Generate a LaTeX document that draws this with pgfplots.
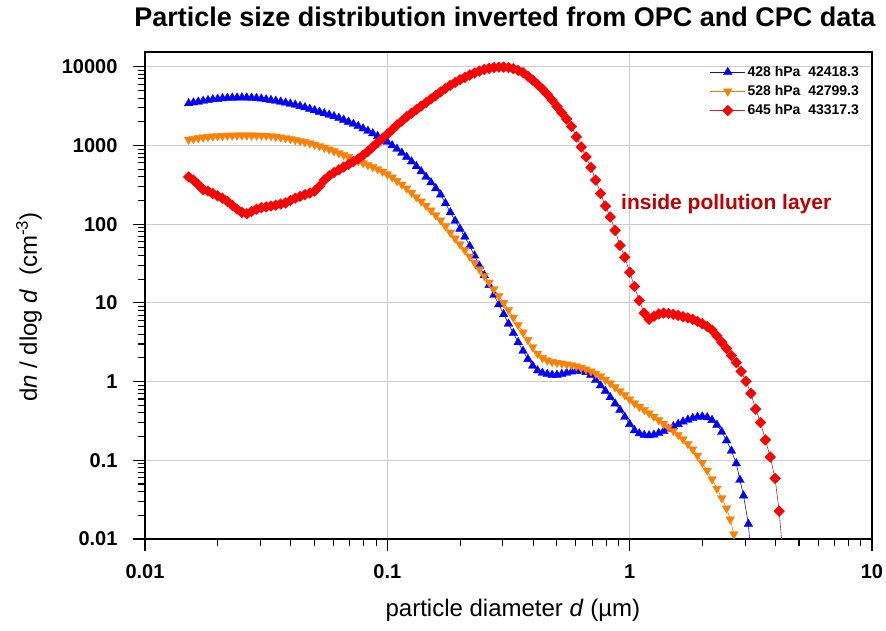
\documentclass[border=0pt]{standalone}
\usepackage{pgfplots}
\pgfplotsset{compat=1.18}
\usepackage{pgfplotstable}
\usepackage{fontspec}
\setmainfont{Liberation Sans}
\definecolor{cblue}{RGB}{0,0,255}
\definecolor{clblue}{RGB}{20,20,170}
\definecolor{corange}{RGB}{255,128,0}
\definecolor{cred}{RGB}{255,0,0}
\definecolor{clred}{RGB}{200,40,40}
\definecolor{cdarkred}{RGB}{190,0,0}
\definecolor{cgrid}{RGB}{205,205,205}

\pgfplotstableread{
d n
0.01514 3428
0.01585 3508
0.01660 3589
0.01738 3673
0.01820 3758
0.01905 3846
0.01995 3908
0.02089 3963
0.02188 4009
0.02291 4036
0.02399 4055
0.02512 4064
0.02630 4055
0.02754 4027
0.02884 3981
0.03020 3926
0.03162 3846
0.03311 3767
0.03467 3681
0.03631 3589
0.03802 3491
0.03981 3388
0.04169 3281
0.04365 3162
0.04571 3041
0.04786 2917
0.05012 2793
0.05248 2673
0.05495 2559
0.05754 2449
0.06026 2344
0.06310 2228
0.06607 2113
0.06918 1995
0.07244 1875
0.07586 1758
0.07943 1641
0.08318 1528
0.08710 1419
0.09120 1312
0.09550 1208
0.1000 1109
0.1047 1000
0.1096 902
0.1148 804
0.1202 713
0.1259 624
0.1318 543
0.1380 468
0.1445 398
0.1514 339
0.1585 285
0.1660 237
0.1738 184
0.1820 141
0.1905 110
0.1995 87.1
0.2089 69.2
0.2188 52.5
0.2291 39.8
0.2399 29.5
0.2512 22.4
0.2630 16.8
0.2754 12.6
0.2884 9.55
0.3020 7.16
0.3162 5.43
0.3311 4.12
0.3467 3.16
0.3631 2.45
0.3802 1.93
0.3981 1.585
0.4169 1.380
0.4365 1.288
0.4571 1.245
0.4786 1.216
0.5012 1.216
0.5248 1.245
0.5495 1.288
0.5754 1.334
0.6026 1.365
0.6310 1.365
0.6607 1.318
0.6918 1.216
0.7244 1.047
0.7586 0.891
0.7943 0.759
0.8318 0.631
0.8710 0.525
0.9120 0.437
0.9550 0.355
1.000 0.288
1.047 0.240
1.096 0.219
1.148 0.209
1.202 0.207
1.259 0.211
1.318 0.221
1.380 0.234
1.445 0.251
1.514 0.269
1.585 0.288
1.660 0.309
1.738 0.327
1.820 0.343
1.905 0.355
1.995 0.359
2.089 0.351
2.188 0.324
2.291 0.282
2.399 0.229
2.512 0.178
2.630 0.132
2.754 0.0912
2.851 0.0562
2.951 0.0355
3.090 0.0155
3.199 0.00398
}\blueTable

\pgfplotstableread{
d n
0.01514 1189
0.01585 1216
0.01660 1245
0.01738 1268
0.01820 1288
0.01905 1306
0.01995 1318
0.02089 1327
0.02188 1337
0.02291 1340
0.02399 1343
0.02512 1343
0.02630 1343
0.02754 1343
0.02884 1340
0.03020 1337
0.03162 1330
0.03311 1318
0.03467 1297
0.03631 1271
0.03802 1242
0.03981 1211
0.04169 1175
0.04365 1140
0.04571 1109
0.04786 1072
0.05012 1028
0.05248 984
0.05495 940
0.05754 893
0.06026 847
0.06310 800
0.06607 757
0.06918 716
0.07244 676
0.07586 637
0.07943 600
0.08318 565
0.08710 533
0.09120 501
0.09550 468
0.1000 432
0.1047 394
0.1096 355
0.1148 320
0.1202 285
0.1259 251
0.1318 221
0.1380 195
0.1445 172
0.1514 150
0.1585 130
0.1660 112
0.1738 94.4
0.1820 78.5
0.1905 66.1
0.1995 55.6
0.2089 46.8
0.2188 38.9
0.2291 32.4
0.2399 26.9
0.2512 22.1
0.2630 18.2
0.2754 15.0
0.2884 12.3
0.3020 10.0
0.3162 8.13
0.3311 6.53
0.3467 5.25
0.3631 4.22
0.3802 3.39
0.3981 2.75
0.4169 2.26
0.4365 2.00
0.4571 1.86
0.4786 1.78
0.5012 1.74
0.5248 1.70
0.5495 1.66
0.5754 1.62
0.6026 1.57
0.6310 1.50
0.6607 1.43
0.6918 1.35
0.7244 1.27
0.7586 1.17
0.7943 1.06
0.8318 0.955
0.8710 0.851
0.9120 0.759
0.9550 0.676
1.000 0.596
1.047 0.531
1.096 0.479
1.148 0.437
1.202 0.398
1.259 0.359
1.318 0.324
1.380 0.292
1.445 0.263
1.514 0.237
1.585 0.211
1.660 0.186
1.738 0.162
1.820 0.138
1.905 0.115
1.995 0.0933
2.089 0.0741
2.188 0.0575
2.291 0.0437
2.399 0.0331
2.512 0.0245
2.600 0.0178
2.692 0.0115
}\orangeTable

\pgfplotstableread{
d n
0.01514 398
0.01585 363
0.01660 316
0.01738 275
0.01820 263
0.01905 245
0.01995 229
0.02089 214
0.02188 195
0.02291 174
0.02399 155
0.02512 141
0.02630 136
0.02754 145
0.02884 155
0.03020 162
0.03162 166
0.03311 170
0.03467 174
0.03631 180
0.03802 186
0.03981 200
0.04169 214
0.04365 226
0.04571 237
0.04786 248
0.05012 263
0.05248 302
0.05495 363
0.05754 412
0.06026 452
0.06310 490
0.06607 531
0.06918 575
0.07244 624
0.07586 676
0.07943 750
0.08318 841
0.08710 955
0.09120 1084
0.09550 1230
0.1000 1396
0.1047 1585
0.1096 1820
0.1148 2042
0.1202 2317
0.1259 2570
0.1318 2851
0.1380 3162
0.1445 3508
0.1514 3890
0.1585 4315
0.1660 4786
0.1738 5309
0.1820 5821
0.1905 6310
0.1995 6839
0.2089 7328
0.2188 7852
0.2291 8318
0.2399 8810
0.2512 9226
0.2630 9550
0.2754 9772
0.2884 9886
0.3020 9886
0.3162 9772
0.3311 9441
0.3467 9016
0.3631 8414
0.3802 7586
0.3981 6761
0.4169 5957
0.4365 5188
0.4571 4467
0.4786 3758
0.5012 3126
0.5248 2600
0.5495 2163
0.5754 1738
0.6026 1288
0.6310 955
0.6607 716
0.6918 525
0.7244 363
0.7586 245
0.7943 170
0.8318 123
0.8710 83.2
0.9120 53.7
0.9550 38.0
1.000 24.5
1.047 16.2
1.096 10.7
1.148 7.41
1.202 6.17
1.259 6.76
1.318 7.24
1.380 7.41
1.445 7.33
1.514 7.16
1.585 6.92
1.660 6.68
1.738 6.46
1.820 6.17
1.905 5.82
1.995 5.43
2.089 5.01
2.188 4.52
2.291 3.80
2.399 3.16
2.512 2.63
2.630 2.14
2.754 1.74
2.884 1.35
3.020 1.01
3.162 0.708
3.311 0.447
3.467 0.302
3.631 0.182
3.802 0.110
3.981 0.0589
4.140 0.0226
4.315 0.005
}\redTable

\begin{document}
\begin{tikzpicture}
\useasboundingbox (-145pt,-92pt) rectangle (741pt,539pt);
\begin{axis}[
  at={(0pt,0pt)}, anchor=south west,
  width=727pt, height=487pt, scale only axis,
  xmode=log, ymode=log,
  xmin=0.01, xmax=10, ymin=0.01, ymax=15400,
  xtick={0.01,0.1,1,10}, xticklabels={0.01,0.1,1,10},
  ytick={0.01,0.1,1,10,100,1000,10000},
  yticklabels={0.01,0.1,1,10,100,1000,10000},
  minor xtick={0.02,0.03,0.04,0.05,0.06,0.07,0.08,0.09,0.2,0.3,0.4,0.5,0.6,0.7,0.8,0.9,2,3,4,5,6,7,8,9},
  minor ytick={0.02,0.03,0.04,0.05,0.06,0.07,0.08,0.09,0.2,0.3,0.4,0.5,0.6,0.7,0.8,0.9,2,3,4,5,6,7,8,9,20,30,40,50,60,70,80,90,200,300,400,500,600,700,800,900,2000,3000,4000,5000,6000,7000,8000,9000},
  tick pos=left, tick align=outside,
  major tick length=12pt, minor tick length=7pt,
  tick style={black, line width=1.1pt},
  axis line style={black, line width=1.6pt},
  grid=major, major grid style={cgrid, line width=0.8pt},
  ticklabel style={font=\fontsize{20}{24}\selectfont\bfseries},
  xticklabel style={yshift=-10pt},
  yticklabel style={xshift=-12pt},
  title={Particle size distribution inverted from OPC and CPC data},
  title style={at={(axis description cs:0.495,1.041)}, anchor=base, inner sep=0pt, font=\fontsize{27}{32}\selectfont\bfseries},
  xlabel={particle diameter \textit{d} (µm)},
  xlabel style={at={(axis description cs:0.506,-0.160)}, anchor=base, inner sep=0pt, font=\fontsize{24}{28}\selectfont},
  ylabel={d\textit{n} / dlog \textit{d}\ \ (cm\textsuperscript{-3})},
  ylabel style={at={(axis description cs:-0.1417,0.476)}, anchor=south, inner sep=0pt, font=\fontsize{24}{28}\selectfont},
  legend style={at={(rel axis cs:0.985,0.975)}, anchor=north east, draw=none, fill=none,
     font=\fontsize{14}{16}\selectfont\bfseries, inner sep=0pt, row sep=3.5pt},
  legend cell align=left,
  legend image code/.code={\draw[mark repeat=2,mark phase=2] plot coordinates {(0pt,0pt) (17.5pt,0pt) (35pt,0pt)};},
]
\addplot[clblue, line width=0.6pt, mark=triangle*, mark size=5pt,
  mark options={fill=cblue, draw=cblue, line width=0.3pt}] table[x=d, y=n] {\blueTable};
\addlegendentry{428 hPa\ \ 42418.3}
\addplot[corange, line width=0.6pt, mark=triangle*, mark size=5pt,
  mark options={rotate=180, fill=corange, draw=corange, line width=0.3pt}] table[x=d, y=n] {\orangeTable};
\addlegendentry{528 hPa\ \ 42799.3}
\addplot[clred, line width=0.6pt, mark=square*, mark size=3.8pt,
  mark options={rotate=45, fill=cred, draw=cred, line width=0.3pt}] table[x=d, y=n] {\redTable};
\addlegendentry{645 hPa\ \ 43317.3}
\node[anchor=west, text=cdarkred, inner sep=0pt, font=\fontsize{21}{25}\selectfont\bfseries] at (axis cs:0.921,178) {inside pollution layer};
\end{axis}
\end{tikzpicture}
\end{document}
